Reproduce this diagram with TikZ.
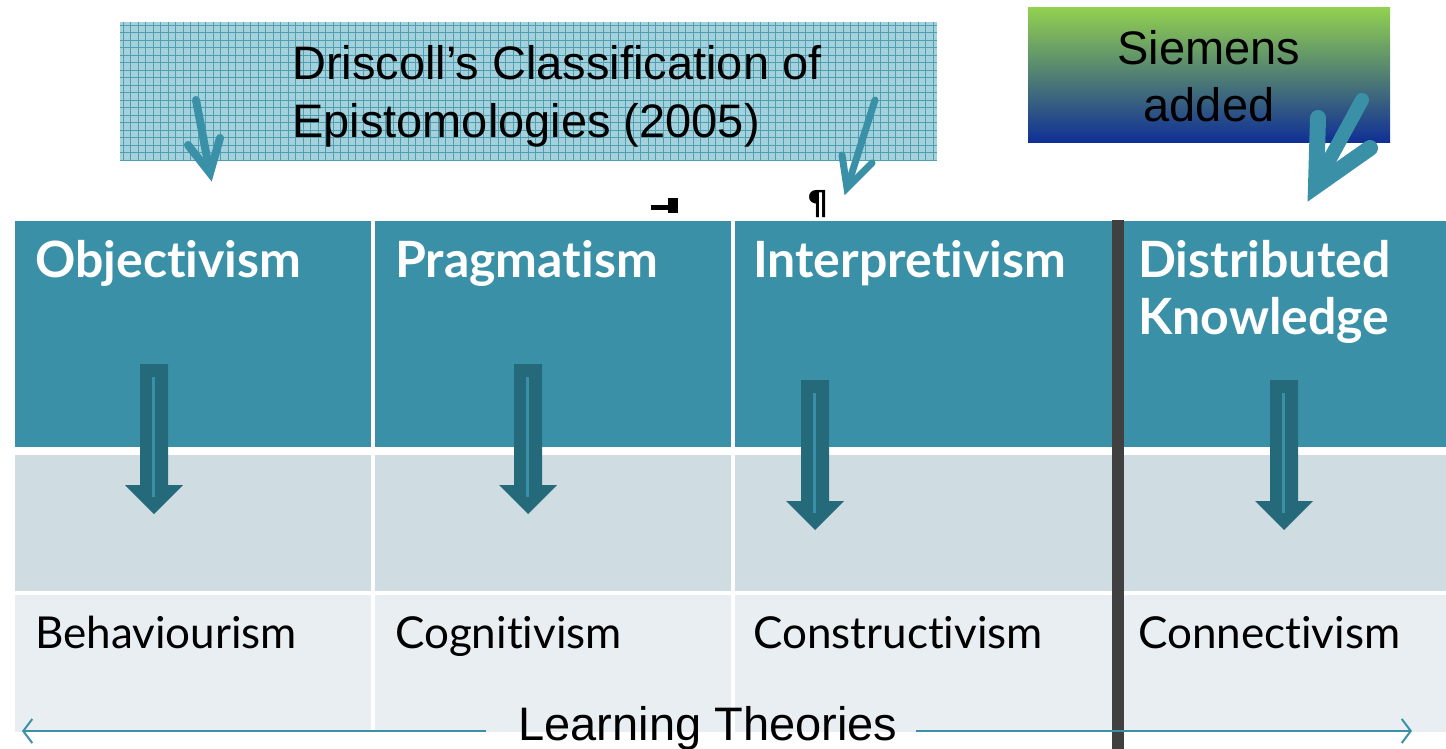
\documentclass[tikz,border=0pt]{standalone}
\usepackage{fontspec}
\setmainfont{Liberation Sans}
\newfontfamily\gillfont[Ligatures={NoCommon,NoContextual}]{Lato}
\newfontfamily\markfont{DejaVu Sans}
\usetikzlibrary{arrows.meta,positioning}

\definecolor{headteal}{HTML}{3A91A7}
\definecolor{midgrey}{HTML}{CFDCE2}
\definecolor{lowgrey}{HTML}{E8EEF2}
\definecolor{arrowdark}{HTML}{256A7B}
\definecolor{bargrey}{HTML}{404040}
\definecolor{gridbg}{HTML}{A4D1DB}
\definecolor{gridline}{HTML}{4E9FB2}
\definecolor{sgreen}{HTML}{92D050}
\definecolor{smid}{HTML}{5E8A86}
\definecolor{sblue}{HTML}{0F2E96}

\begin{document}
\begin{tikzpicture}[x=1pt,y=-1pt,
    hdr/.style={anchor=base west, text=white, inner sep=0pt, align=left,
        font=\gillfont\bfseries\fontsize{50}{57}\selectfont},
    thy/.style={anchor=base west, inner sep=0pt,
        font=\gillfont\fontsize{44}{56}\selectfont},
    big/.style={inner sep=0pt, font=\fontsize{47}{58}\selectfont},
    sketch/.style={draw=headteal, line width=8pt, line cap=round, line join=miter}]
    \useasboundingbox (0,0) rectangle (1446,749);

    % Title box: light teal with a fine grid over it
    \fill[gridbg] (120,22) rectangle (937,160);
    \begin{scope}[gridline, line width=0.8pt]
        \foreach \gx in {123,130.5,...,937}{%
            \draw (\gx,22) -- (\gx,160);
        }
        \foreach \gy in {25,32.5,...,160}{%
            \draw (120,\gy) -- (937,\gy);
        }
    \end{scope}
    % (base of a two line node = base of its last line)
    \node[big, anchor=base west, align=left] (title) at (292,138)
        {Driscoll’s Classification of\\Epistomologies (2005)};

    % Box at the top right, shaded green to blue
    \shade[top color=sgreen, middle color=smid, bottom color=sblue]
        (1028,8) rectangle (1390,143);
    \node[big, align=center, anchor=base] (siemens) at (1209,122) {Siemens\\added};

    % Table: header row, middle row, bottom row
    \foreach \xa/\xb in {15/371, 375/731, 735/1114, 1118/1446}{%
        \fill[headteal] (\xa,221) rectangle (\xb,447);
        \fill[midgrey]  (\xa,455) rectangle (\xb,591);
        \fill[lowgrey]  (\xa,595) rectangle (\xb,732);
    }

    % Headers
    \node[hdr] (hObj)  at (35,277)   {Objectivism};
    \node[hdr] (hPrag) at (395,277)  {Pragmatism};
    \node[hdr] (hInt)  at (753,277)  {Interpretivism};
    \node[hdr] (hDist) at (1138,334) {Distributed\\Knowledge};

    % Theories
    \node[thy] (tBeh)  at (35,648)   {Behaviourism};
    \node[thy] (tCog)  at (395,648)  {Cognitivism};
    \node[thy] (tCon)  at (753,648)  {Constructivism};
    \node[thy] (tConn) at (1138,648) {Connectivism};

    % Block arrows from each header down to its theory
    \foreach \ax/\at/\ab in {154/364/514, 528/364/514, 815/380/530, 1284/380/530}{%
        \fill[arrowdark] (\ax-14,\at) -- (\ax+14,\at) -- (\ax+14,\ab-29)
            -- (\ax+29,\ab-29) -- (\ax,\ab) -- (\ax-29,\ab-29)
            -- (\ax-14,\ab-29) -- cycle;
        \draw[headteal, line width=3pt] (\ax-1,\at+13) -- (\ax-1,\ab-17);
    }

    % Divider before the added column
    \fill[bargrey] (1112,220) rectangle (1124,749);

    % Hand drawn arrows
    \draw[sketch] (196,100) -- (209,168);
    \draw[sketch] (188,145) -- (210,173) -- (220,138);
    \draw[sketch, line width=7pt] (875,100) -- (849,182);
    \draw[sketch, line width=7pt] (842,155) -- (847,188) -- (872,163);
    \draw[sketch, line width=14pt] (1362,100) -- (1325,168);
    \draw[sketch, line width=16pt] (1318,118) -- (1316,186) -- (1370,148);

    % Formatting marks
    \draw[black, line width=5pt] (651,207) -- (670,207);
    \fill[black] (668,198) rectangle (678,213);
    \node[inner sep=0pt, font=\markfont\bfseries\fontsize{33}{33}\selectfont] (pilcrow) at (818,204) {¶};

    % Learning theories axis
    \node[big, anchor=base] (lt) at (708,740) {Learning Theories};
    \coordinate (ltL) at (22,731);
    \coordinate (ltR) at (1412,731);
    \draw[headteal, line width=2pt, -{Straight Barb[length=9pt,width=24pt]}]
        ([xshift=-32pt]lt.west |- ltL) -- (ltL);
    \draw[headteal, line width=2pt, -{Straight Barb[length=9pt,width=24pt]}]
        ([xshift=18pt]lt.east |- ltR) -- (ltR);
\end{tikzpicture}
\end{document}
